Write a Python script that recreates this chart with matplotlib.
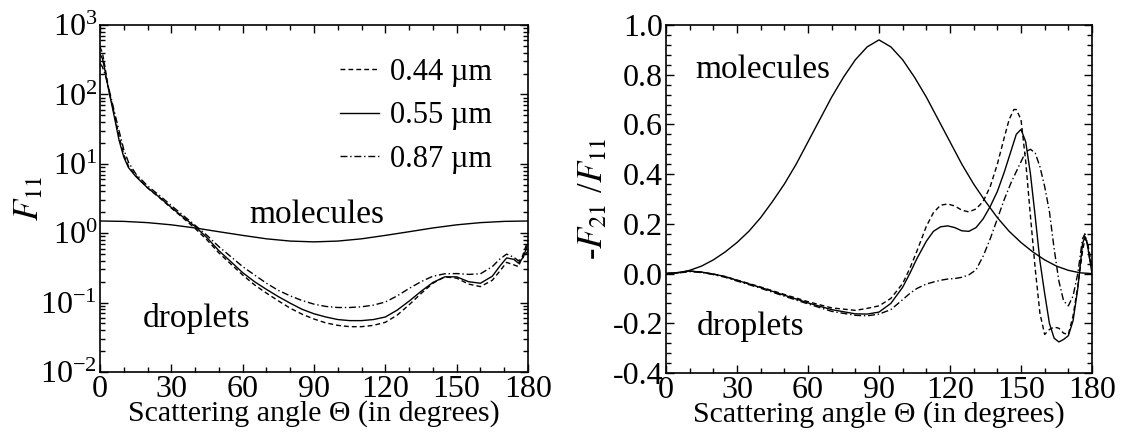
import numpy as np
import matplotlib
matplotlib.use("Agg")
import matplotlib.pyplot as plt
from matplotlib.ticker import MultipleLocator, LogLocator, NullFormatter, FormatStrFormatter

plt.rcParams['font.family'] = ['Liberation Serif', 'DejaVu Serif']
plt.rcParams['mathtext.fontset'] = 'stix'
plt.rcParams['axes.unicode_minus'] = False

# --- Lijevi panel: F11 (log skala) ---
theta_mol = [0, 10, 20, 30, 40, 50, 60, 70, 80, 90, 100, 110, 120, 130, 140, 150, 160, 170, 180]
f11_mol = [1.5, 1.48, 1.42, 1.32, 1.19, 1.05, 0.93, 0.83, 0.77, 0.75,
           0.77, 0.83, 0.93, 1.05, 1.19, 1.32, 1.42, 1.48, 1.5]

theta_f = [0, 1, 2, 3, 4, 5, 6, 8, 10, 12, 15, 20, 25, 30, 35, 40, 45, 50, 55, 60,
           65, 70, 75, 80, 85, 90, 95, 100, 105, 110, 115, 120, 125, 130, 135, 140,
           145, 150, 155, 160, 165, 168, 171, 174, 176, 178, 180]
f11_044 = [480, 400, 260, 160, 105, 75, 52, 25, 13.5, 9.2, 6.8, 4.5, 3.25, 2.3, 1.65, 1.17,
           0.8, 0.52, 0.36, 0.25, 0.18, 0.137, 0.106, 0.083, 0.068, 0.058, 0.051, 0.047,
           0.045, 0.045, 0.047, 0.052, 0.066, 0.093, 0.135, 0.19, 0.235, 0.225, 0.185,
           0.17, 0.21, 0.28, 0.38, 0.35, 0.33, 0.5, 0.8]
f11_055 = [380, 330, 230, 150, 100, 70, 48, 22, 12.5, 8.8, 6.6, 4.5, 3.3, 2.35, 1.7, 1.25,
           0.86, 0.56, 0.39, 0.27, 0.2, 0.155, 0.122, 0.098, 0.08, 0.069, 0.062, 0.057,
           0.055, 0.055, 0.057, 0.062, 0.078, 0.105, 0.145, 0.195, 0.235, 0.235, 0.2,
           0.19, 0.24, 0.33, 0.44, 0.42, 0.37, 0.45, 0.7]
f11_087 = [280, 250, 200, 150, 110, 80, 57, 30, 16, 10.5, 7.2, 4.8, 3.5, 2.5, 1.8, 1.3,
           0.93, 0.64, 0.46, 0.33, 0.25, 0.19, 0.15, 0.125, 0.107, 0.095, 0.088, 0.085,
           0.085, 0.087, 0.092, 0.102, 0.125, 0.16, 0.2, 0.24, 0.26, 0.262, 0.255, 0.26,
           0.33, 0.42, 0.5, 0.45, 0.4, 0.45, 0.55]

# --- Desni panel: -F21/F11 ---
theta_pol_mol = [0, 5, 10, 15, 20, 25, 30, 35, 40, 45, 50, 55, 60, 65, 70, 75, 80, 85, 90,
                 95, 100, 105, 110, 115, 120, 125, 130, 135, 140, 145, 150, 155, 160, 165,
                 170, 175, 180]
pol_mol = [0, 0.003, 0.013, 0.03, 0.055, 0.087, 0.125, 0.17, 0.225, 0.29, 0.36, 0.44, 0.53,
           0.62, 0.71, 0.79, 0.86, 0.912, 0.94, 0.912, 0.86, 0.79, 0.71, 0.62, 0.53, 0.44,
           0.36, 0.29, 0.225, 0.17, 0.125, 0.087, 0.055, 0.03, 0.013, 0.003, 0]

theta_p044 = [0, 5, 10, 15, 20, 25, 30, 40, 50, 60, 70, 80, 85, 90, 95, 100, 103, 106, 110,
              113, 116, 119, 122, 125, 128, 131, 134, 137, 140, 143, 145, 147, 148, 150, 152,
              154, 156, 158, 160, 162, 164, 166, 168, 170, 172, 174, 176, 177, 178, 179, 180]
pol_044 = [0, 0.004, 0.01, 0.006, -0.002, -0.012, -0.026, -0.054, -0.084, -0.113, -0.138,
           -0.148, -0.14, -0.13, -0.1, -0.04, 0.02, 0.09, 0.19, 0.245, 0.275, 0.28, 0.272,
           0.255, 0.248, 0.26, 0.29, 0.35, 0.44, 0.55, 0.62, 0.66, 0.66, 0.62, 0.45, 0.23,
           0.02, -0.16, -0.245, -0.225, -0.215, -0.22, -0.24, -0.245, -0.17, -0.05, 0.09,
           0.14, 0.13, 0.08, 0.03]

theta_p055 = [0, 5, 10, 15, 20, 25, 30, 40, 50, 60, 70, 80, 85, 90, 95, 100, 103, 106, 110,
              113, 116, 119, 122, 125, 128, 131, 134, 137, 140, 143, 146, 148, 150, 152, 154,
              156, 158, 160, 162, 164, 166, 168, 170, 172, 174, 175, 176, 177, 178, 179, 180]
pol_055 = [0, 0.004, 0.01, 0.006, -0.002, -0.012, -0.027, -0.056, -0.087, -0.118, -0.145,
           -0.162, -0.163, -0.155, -0.12, -0.055, 0.0, 0.06, 0.13, 0.17, 0.188, 0.192, 0.185,
           0.172, 0.17, 0.185, 0.22, 0.27, 0.33, 0.41, 0.5, 0.56, 0.58, 0.53, 0.4, 0.23,
           0.05, -0.08, -0.2, -0.26, -0.275, -0.265, -0.25, -0.19, -0.06, 0.03, 0.12, 0.15,
           0.12, 0.06, 0.0]

theta_p087 = [0, 5, 10, 15, 20, 25, 30, 40, 50, 60, 70, 80, 85, 90, 95, 100, 103, 106, 110,
              113, 116, 119, 122, 125, 128, 131, 134, 137, 140, 143, 146, 149, 152, 154, 156,
              158, 160, 162, 164, 166, 168, 170, 172, 174, 176, 177, 178, 179, 180]
pol_087 = [0, 0.002, 0.008, 0.004, -0.004, -0.015, -0.03, -0.059, -0.091, -0.122, -0.152,
           -0.168, -0.17, -0.163, -0.145, -0.105, -0.08, -0.06, -0.042, -0.034, -0.027,
           -0.022, -0.02, -0.015, -0.005, 0.015, 0.07, 0.14, 0.22, 0.3, 0.37, 0.43, 0.49,
           0.5, 0.485, 0.43, 0.35, 0.25, 0.1, -0.03, -0.11, -0.13, -0.09, 0.0, 0.14, 0.16,
           0.12, 0.06, 0.02]

labels = ["0.44 µm", "0.55 µm", "0.87 µm"]
FS_TICK = 23
FS_TXT = 24
FS_LEG = 22
FS_XLAB = 21.5
LW = 1.0
DASH = (0, (3.5, 2.2))
DASHDOT = (0, (5, 2, 1, 2))


def oblikuj_os(ax):
    ax.tick_params(which='both', direction='in', top=True, right=True,
                   labelsize=FS_TICK, width=1.0, pad=2)
    ax.tick_params(which='major', length=6)
    ax.tick_params(which='minor', length=3.5)
    ax.xaxis.set_major_locator(MultipleLocator(30))
    ax.xaxis.set_minor_locator(MultipleLocator(10))
    ax.set_xlim(0, 180)
    for s in ax.spines.values():
        s.set_linewidth(1.2)
    ax.set_xlabel("Scattering angle Θ (in degrees)", fontsize=FS_XLAB, labelpad=-3)


fig = plt.figure(figsize=(11.22, 4.32), dpi=100)
ax1 = fig.add_axes([100 / 1122, 60 / 432, 428 / 1122, 347 / 432])
ax2 = fig.add_axes([666 / 1122, 59 / 432, 426 / 1122, 348 / 432])

# Lijevi panel
ax1.plot(theta_f, f11_044, color='k', lw=LW, linestyle=DASH, label=labels[0])
ax1.plot(theta_f, f11_055, color='k', lw=LW, linestyle='-', label=labels[1])
ax1.plot(theta_f, f11_087, color='k', lw=LW, linestyle=DASHDOT, label=labels[2])
ax1.plot(theta_mol, f11_mol, color='k', lw=LW)
ax1.set_yscale('log')
ax1.set_ylim(1e-2, 1e3)
oblikuj_os(ax1)
ax1.yaxis.set_major_locator(LogLocator(base=10, numticks=10))
ax1.yaxis.set_minor_locator(LogLocator(base=10, subs=np.arange(2, 10), numticks=20))
ax1.yaxis.set_minor_formatter(NullFormatter())
ax1.set_ylabel(r"$F_{11}$", fontsize=FS_TXT + 1, labelpad=-4)
ax1.text(0.35, 0.43, "molecules", transform=ax1.transAxes, fontsize=FS_TXT)
ax1.text(0.10, 0.13, "droplets", transform=ax1.transAxes, fontsize=FS_TXT)
leg = ax1.legend(loc='upper right', bbox_to_anchor=(0.98, 0.985), frameon=False,
                 fontsize=FS_LEG, handlelength=1.3, handletextpad=0.35, labelspacing=0.48)

# Desni panel
ax2.plot(theta_p044, pol_044, color='k', lw=LW, linestyle=DASH)
ax2.plot(theta_p055, pol_055, color='k', lw=LW, linestyle='-')
ax2.plot(theta_p087, pol_087, color='k', lw=LW, linestyle=DASHDOT)
ax2.plot(theta_pol_mol, pol_mol, color='k', lw=LW)
ax2.set_ylim(-0.4, 1.0)
oblikuj_os(ax2)
ax2.yaxis.set_major_locator(MultipleLocator(0.2))
ax2.yaxis.set_minor_locator(MultipleLocator(0.04))
ax2.yaxis.set_major_formatter(FormatStrFormatter('%.1f'))
ax2.set_ylabel(r"-$F_{21}$ /$F_{11}$", fontsize=FS_TXT + 1, labelpad=2)
ax2.text(0.068, 0.848, "molecules", transform=ax2.transAxes, fontsize=FS_TXT)
ax2.text(0.073, 0.109, "droplets", transform=ax2.transAxes, fontsize=FS_TXT)

fig.savefig("out.png", dpi=100)
